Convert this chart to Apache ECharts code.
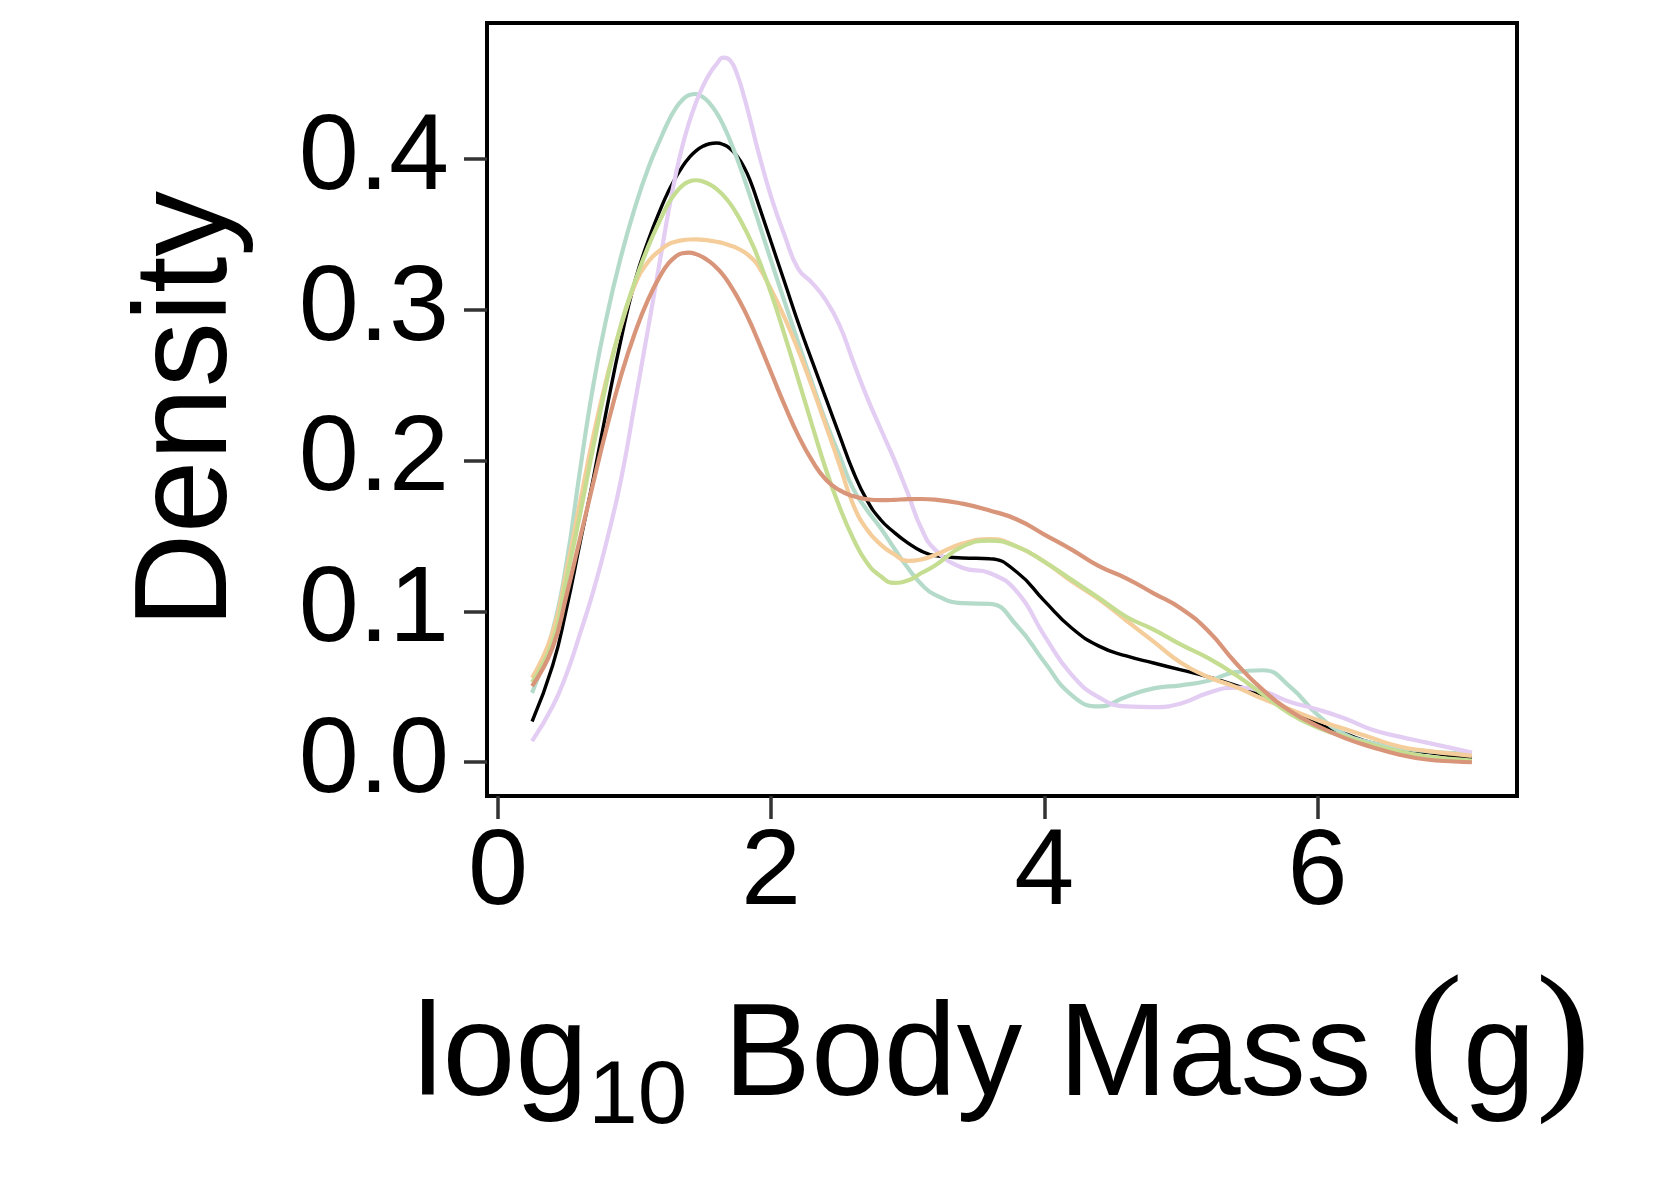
<!DOCTYPE html>
<html>
<head>
<meta charset="utf-8">
<script src="https://cdn.jsdelivr.net/npm/echarts@6/dist/echarts.min.js"></script>
<style>
html,body{margin:0;padding:0;background:#fff;}
#chart{width:1653px;height:1181px;}
</style>
</head>
<body>
<div id="chart"></div>
<script>
// common x grid (log10 body mass)
const xs = [0.25,0.4,0.5,0.6,0.7,0.8,0.9,1.0,1.1,1.2,
  1.25,1.3,1.35,1.4,1.45,1.5,1.55,1.6,1.65,1.7,1.75,1.8,1.85,1.9,
  2.0,2.1,2.2,2.3,2.4,2.5,2.6,2.7,2.8,
  2.9,3.0,3.1,
  3.2,3.4,3.6,3.8,4.0,4.2,4.4,4.6,4.8,5.0,5.2,5.4,5.6,5.8,6.0,6.2,6.4,6.6,6.8,7.0,7.13];

const blackY = [0.027,0.064,0.101,0.145,0.189,0.236,0.280,0.318,0.346,0.369,
  0.379,0.3875,0.3950,0.4010,0.4055,0.4085,0.4102,0.4107,0.4097,0.407,0.402,0.395,0.385,0.372,
  0.345,0.318,0.291,0.266,0.2415,0.217,0.193,0.174,0.161,
  0.1525,0.1455,0.140,
  0.137,0.1355,0.135,0.126,0.107,0.089,0.077,0.0705,0.0658,0.0612,0.0566,0.051,0.0445,0.034,0.0255,0.019,0.0128,0.0093,0.0065,0.004,0.0026];
const mintY = [0.046,0.087,0.131,0.193,0.251,0.297,0.335,0.367,0.394,0.4155,
  0.4255,0.4335,0.4393,0.4425,0.4432,0.4412,0.437,0.4308,0.4225,0.4122,0.4005,0.3878,0.3743,0.3605,
  0.3325,0.305,0.278,0.2515,0.226,0.2035,0.1815,0.1675,0.1555,
  0.142,0.129,0.118,
  0.111,0.1055,0.105,0.0905,0.0665,0.0445,0.037,0.0435,0.049,0.051,0.054,0.0598,0.061,0.050,0.0315,0.0185,0.0128,0.0093,0.0073,0.006,0.0055];
const lavenderY = [0.014,0.037,0.058,0.085,0.114,0.148,0.187,0.237,0.288,0.340,
  0.366,0.389,0.4085,0.4245,0.4375,0.4482,0.4567,0.4630,0.4673,0.4655,0.4565,0.442,0.425,0.407,
  0.375,0.349,0.327,0.318,0.3065,0.290,0.266,0.2425,0.2215,
  0.201,0.1785,0.155,
  0.141,0.129,0.1255,0.113,0.084,0.058,0.043,0.037,0.0365,0.039,0.046,0.0495,0.047,0.040,0.035,0.029,0.0215,0.017,0.013,0.009,0.0064];
const greenY = [0.053,0.080,0.121,0.164,0.210,0.254,0.290,0.318,0.342,0.362,
  0.371,0.3775,0.3825,0.3852,0.386,0.3852,0.3833,0.3802,0.376,0.3705,0.3635,0.3552,0.346,0.3355,
  0.311,0.283,0.2535,0.2235,0.1945,0.1695,0.1485,0.1325,0.1235,
  0.119,0.1205,0.1255,
  0.1305,0.143,0.147,0.143,0.133,0.121,0.109,0.0965,0.088,0.078,0.069,0.058,0.045,0.032,0.023,0.017,0.0115,0.0071,0.0038,0.002,0.0011];
const peachY = [0.056,0.086,0.126,0.172,0.217,0.256,0.289,0.316,0.332,0.3405,
  0.3436,0.3452,0.3462,0.3467,0.3468,0.3465,0.346,0.3452,0.3442,0.3427,0.341,0.3385,0.335,0.330,
  0.3135,0.2945,0.273,0.249,0.2235,0.1975,0.171,0.1545,0.1445,
  0.138,0.1335,0.1345,
  0.1375,0.145,0.148,0.143,0.133,0.120,0.108,0.094,0.080,0.066,0.0565,0.050,0.042,0.035,0.028,0.022,0.016,0.0104,0.0075,0.0055,0.0042];
const terraY = [0.0505,0.076,0.110,0.148,0.186,0.223,0.256,0.284,0.307,0.3245,
  0.3310,0.3353,0.3376,0.338,0.337,0.335,0.332,0.328,0.323,0.3165,0.309,0.3005,0.291,0.2805,
  0.2585,0.2365,0.2165,0.200,0.1875,0.1805,0.1765,0.1745,0.1738,
  0.174,0.1745,0.1746,
  0.1742,0.1715,0.167,0.161,0.151,0.141,0.130,0.122,0.112,0.102,0.087,0.066,0.048,0.034,0.024,0.016,0.010,0.005,0.0018,0.0005,0.0];

const xTicks = [0,2,4,6];
const yTicks = [0,0.1,0.2,0.3,0.4];

const seriesDefs = [
  {name:'black', ys: blackY, color:'#000000', width:3.4},
  {name:'mint', ys: mintY, color:'#b4dbca', width:4.2},
  {name:'lavender', ys: lavenderY, color:'#e3cdf3', width:4.2},
  {name:'peach', ys: peachY, color:'#f4cd9b', width:4.2},
  {name:'green', ys: greenY, color:'#c5dd91', width:4.2},
  {name:'terracotta', ys: terraY, color:'#d9957a', width:4.2}
];

const FONT = '"Liberation Sans", Arial, Helvetica, sans-serif';

const chart = echarts.init(document.getElementById('chart'), null, {renderer:'canvas'});
chart.setOption({
  animation: false,
  backgroundColor: '#ffffff',
  grid: {
    left: 487, top: 23, width: 1030, height: 773,
    show: true, borderColor: '#000', borderWidth: 4, backgroundColor: 'transparent'
  },
  xAxis: {
    type: 'value', min: -0.08, max: 7.46,
    axisLine: {show: false, onZero: false},
    splitLine: {show: false},
    axisTick: {show: true, inside: false, length: 23, customValues: xTicks,
      lineStyle: {color: '#333', width: 3.5}},
    axisLabel: {show: true, customValues: xTicks, margin: 24,
      fontFamily: FONT, fontSize: 108, lineHeight: 108, color: '#000',
      formatter: v => String(v)},
    name: '{m|log}{s|10}{m| Body Mass }{p|(}{m|g}{p|)}',
    nameLocation: 'middle',
    nameGap: 183,
    nameTextStyle: {
      rich: {
        m: {fontFamily: FONT, fontSize: 131, lineHeight: 160, color: '#000'},
        s: {fontFamily: FONT, fontSize: 89, lineHeight: 80, padding: [79,0,0,0], color: '#000'},
        p: {fontFamily: '"Liberation Serif", "DejaVu Serif", serif', fontSize: 165, lineHeight: 130, padding: [0,0,26,0], color: '#000'}
      }
    }
  },
  yAxis: {
    type: 'value', min: -0.0224, max: 0.4903,
    axisLine: {show: false, onZero: false},
    splitLine: {show: false},
    axisTick: {show: true, inside: false, length: 23, customValues: yTicks,
      lineStyle: {color: '#333', width: 3.5}},
    axisLabel: {show: true, customValues: yTicks, margin: 38,
      fontFamily: FONT, fontSize: 108, lineHeight: 108, color: '#000',
      formatter: v => v.toFixed(1)},
    name: 'Density',
    nameLocation: 'middle',
    nameGap: 232,
    nameTextStyle: {fontFamily: FONT, fontSize: 131, lineHeight: 131, color: '#000'}
  },
  series: seriesDefs.map(d => ({
    name: d.name,
    type: 'line',
    data: xs.map((x, i) => [x, d.ys[i]]),
    smooth: 0.5,
    showSymbol: false,
    symbol: 'none',
    lineStyle: {color: d.color, width: d.width},
    itemStyle: {color: d.color},
    emphasis: {disabled: true}
  }))
});
</script>
</body>
</html>
